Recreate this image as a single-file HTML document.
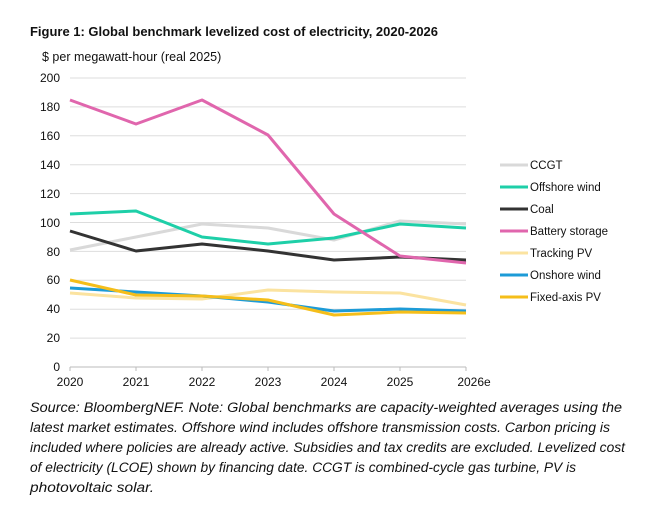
<!DOCTYPE html><html><head><style>body{margin:0;background:#fff;width:659px;height:507px;overflow:hidden;font-family:"Liberation Sans",sans-serif}</style></head><body>
<svg width="659" height="507" xmlns="http://www.w3.org/2000/svg" font-family="Liberation Sans, sans-serif">
<text x="30" y="36" font-size="13" font-weight="bold" fill="#111" textLength="408" lengthAdjust="spacingAndGlyphs">Figure 1: Global benchmark levelized cost of electricity, 2020-2026</text>
<text x="42" y="61" font-size="12.5" fill="#111">$ per megawatt-hour (real 2025)</text>
<g stroke="#ddd" stroke-width="1">
<line x1="70" x2="466" y1="78" y2="78"/><line x1="70" x2="466" y1="106.9" y2="106.9"/><line x1="70" x2="466" y1="135.8" y2="135.8"/><line x1="70" x2="466" y1="164.7" y2="164.7"/><line x1="70" x2="466" y1="193.6" y2="193.6"/><line x1="70" x2="466" y1="222.5" y2="222.5"/><line x1="70" x2="466" y1="251.4" y2="251.4"/><line x1="70" x2="466" y1="280.3" y2="280.3"/><line x1="70" x2="466" y1="309.2" y2="309.2"/><line x1="70" x2="466" y1="338.1" y2="338.1"/>
</g>
<line x1="70" x2="466" y1="367" y2="367" stroke="#bbb"/>
<g stroke="#bbb"><line x1="70" x2="70" y1="367" y2="371"/><line x1="136" x2="136" y1="367" y2="371"/><line x1="202" x2="202" y1="367" y2="371"/><line x1="268" x2="268" y1="367" y2="371"/><line x1="334" x2="334" y1="367" y2="371"/><line x1="400" x2="400" y1="367" y2="371"/><line x1="466" x2="466" y1="367" y2="371"/></g>
<g font-size="12" fill="#111" text-anchor="end">
<text x="60" y="82">200</text><text x="60" y="111">180</text><text x="60" y="140">160</text><text x="60" y="169">140</text><text x="60" y="198">120</text><text x="60" y="227">100</text><text x="60" y="256">80</text><text x="60" y="284">60</text><text x="60" y="313">40</text><text x="60" y="342">20</text><text x="60" y="371">0</text>
</g>
<g font-size="12" fill="#111" text-anchor="middle">
<text x="70" y="386">2020</text><text x="136" y="386">2021</text><text x="202" y="386">2022</text><text x="268" y="386">2023</text><text x="334" y="386">2024</text><text x="400" y="386">2025</text><text x="474" y="386">2026e</text>
</g>
<g fill="none" stroke-width="3" stroke-linejoin="round">
<polyline stroke="#d9d9d9" points="70,250 136,237 202,224 268,228 334,240 400,221 466,224"/>
<polyline stroke="#fbe3a0" points="70,293 136,298 202,299 268,290 334,292 400,293 466,305"/>
<polyline stroke="#1d9bd7" points="70,288 136,292 202,296 268,302 334,311 400,309 466,311"/>
<polyline stroke="#f5be1a" points="70,280 136,295 202,296 268,300 334,315 400,312 466,313"/>
<polyline stroke="#333" points="70,231 136,251 202,244 268,251 334,260 400,257 466,260"/>
<polyline stroke="#1ecfa8" points="70,214 136,211 202,237 268,244 334,238 400,224 466,228"/>
<polyline stroke="#e066ad" points="70,100 136,124 202,100 268,135 334,214 400,256 466,263"/>
</g>
<g stroke-width="3">
<line x1="500" x2="528" y1="165" y2="165" stroke="#d9d9d9"/>
<line x1="500" x2="528" y1="187" y2="187" stroke="#1ecfa8"/>
<line x1="500" x2="528" y1="209" y2="209" stroke="#333"/>
<line x1="500" x2="528" y1="231" y2="231" stroke="#e066ad"/>
<line x1="500" x2="528" y1="253" y2="253" stroke="#fbe3a0"/>
<line x1="500" x2="528" y1="275" y2="275" stroke="#1d9bd7"/>
<line x1="500" x2="528" y1="297" y2="297" stroke="#f5be1a"/>
</g>
<g font-size="11.5" fill="#111">
<text x="530" y="169">CCGT</text><text x="530" y="191">Offshore wind</text><text x="530" y="213">Coal</text><text x="530" y="235">Battery storage</text><text x="530" y="257">Tracking PV</text><text x="530" y="279">Onshore wind</text><text x="530" y="301">Fixed-axis PV</text>
</g>
<g font-size="13.5" font-style="italic" fill="#111" lengthAdjust="spacingAndGlyphs">
<text x="30" y="412" textLength="592" lengthAdjust="spacingAndGlyphs">Source: BloombergNEF. Note: Global benchmarks are capacity-weighted averages using the</text>
<text x="30" y="432" textLength="580" lengthAdjust="spacingAndGlyphs">latest market estimates. Offshore wind includes offshore transmission costs. Carbon pricing is</text>
<text x="30" y="452" textLength="595" lengthAdjust="spacingAndGlyphs">included where policies are already active. Subsidies and tax credits are excluded. Levelized cost</text>
<text x="30" y="472" textLength="546" lengthAdjust="spacingAndGlyphs">of electricity (LCOE) shown by financing date. CCGT is combined-cycle gas turbine, PV is</text>
<text x="30" y="492" textLength="124" lengthAdjust="spacingAndGlyphs">photovoltaic solar.</text>
</g>
</svg></body></html>
